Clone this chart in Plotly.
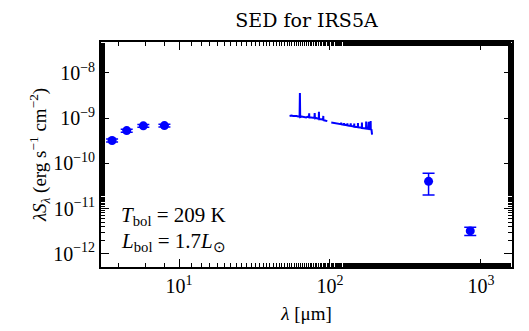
import numpy as np
import plotly.graph_objects as go

# photometry (IRAC)
phot_wl = [3.6, 4.5, 5.8, 8.0]
phot_flux = [3.2e-10, 5.3e-10, 6.75e-10, 6.85e-10]
phot_err = [2.5e-11, 4.0e-11, 5.0e-11, 5.0e-11]

# submm
submm_wl = [450, 850]
submm_flux = [4.0e-11, 3.2e-12]
submm_err = [2.0e-11, 0.65e-12]

# spectrum, two segments (gap near 100 um)
spec1_wl = [54, 55.5, 57, 58.5, 60, 61.5, 62.9, 63.2, 63.5, 65, 66.5, 68, 69.5, 71,
            72.6, 72.8, 73.0, 75, 76.5, 78.9, 79.2, 79.5, 81, 82.5, 84.3, 84.5, 84.7,
            87, 89, 90.1, 90.3, 90.5, 92.5, 94, 96]
spec1_flux = [1.12e-9, 1.14e-9, 1.11e-9, 1.13e-9, 1.11e-9, 1.09e-9, 1.10e-9, 3.6e-9, 1.06e-9,
              1.09e-9, 1.07e-9, 1.06e-9, 1.04e-9, 1.07e-9, 1.05e-9, 1.28e-9, 1.03e-9,
              1.03e-9, 1.02e-9, 1.01e-9, 1.30e-9, 0.99e-9, 1.0e-9, 9.7e-10, 9.6e-10,
              1.38e-9, 9.4e-10, 9.4e-10, 9.2e-10, 9.3e-10, 1.12e-9, 9.0e-10, 8.9e-10,
              8.8e-10, 8.6e-10]
spec2_wl = [102, 104, 106, 108, 110, 112, 114, 116, 118, 118.6, 119.2, 121, 124, 124.2,
            124.6, 127, 130.2, 130.4, 130.8, 134, 137, 137.2, 137.6, 141, 144.6, 144.8,
            145.2, 149, 153, 153.2, 153.6, 158, 162.6, 162.8, 163.2, 168, 173.4, 173.6,
            174, 179, 180.5, 181, 185.8, 186, 186.4, 188.5, 190]
spec2_flux = [8.0e-10, 7.9e-10, 7.8e-10, 7.75e-10, 7.65e-10, 7.6e-10, 7.5e-10, 7.45e-10,
              7.35e-10, 7.9e-10, 7.3e-10, 7.25e-10, 7.15e-10, 7.8e-10, 7.1e-10, 7.05e-10,
              6.95e-10, 7.7e-10, 6.9e-10, 6.8e-10, 6.75e-10, 7.7e-10, 6.7e-10, 6.6e-10,
              6.5e-10, 7.6e-10, 6.45e-10, 6.4e-10, 6.3e-10, 7.8e-10, 6.25e-10, 6.2e-10,
              6.1e-10, 8.0e-10, 6.05e-10, 6.0e-10, 5.9e-10, 8.4e-10, 5.85e-10, 5.8e-10,
              8.3e-10, 5.75e-10, 5.7e-10, 8.6e-10, 5.6e-10, 5.5e-10, 4.3e-10]

x_ticks = [10, 100, 1000]
x_ticktext = ["10<sup>1</sup>", "10<sup>2</sup>", "10<sup>3</sup>"]
y_ticks = [1e-12, 1e-11, 1e-10, 1e-9, 1e-8]
y_ticktext = ["10<sup>−12</sup>", "10<sup>−11</sup>", "10<sup>−10</sup>",
              "10<sup>−9</sup>", "10<sup>−8</sup>"]

blue = "#0000ff"
font = "Liberation Serif"

fig = go.Figure()
fig.add_trace(go.Scatter(x=spec1_wl + [None] + spec2_wl,
                         y=spec1_flux + [None] + spec2_flux,
                         mode="lines", line=dict(color=blue, width=2),
                         connectgaps=False))
fig.add_trace(go.Scatter(x=phot_wl + submm_wl, y=phot_flux + submm_flux,
                         mode="markers", marker=dict(color=blue, size=9),
                         error_y=dict(type="data", array=phot_err + submm_err,
                                      color=blue, thickness=1.5, width=6)))

axis_common = dict(type="log", showline=True, linecolor="black", linewidth=1.8,
                   mirror="allticks", ticks="inside", ticklen=8, tickwidth=1.2,
                   tickcolor="black", showgrid=False, zeroline=False, automargin=False,
                   minor=dict(ticks="inside", ticklen=4, tickwidth=1, tickcolor="black",
                              showgrid=False),
                   tickfont=dict(family=font, size=20, color="black"))

fig.update_xaxes(**axis_common, range=[np.log10(3.04), np.log10(1607)],
                 tickvals=x_ticks, ticktext=x_ticktext,
                 title=dict(text="<i>λ</i> [μm]", font=dict(family=font, size=19, color="black"),
                            standoff=11))
fig.update_yaxes(**axis_common, range=[-12.293, -7.316],
                 tickvals=y_ticks, ticktext=y_ticktext,
                 title=dict(text="<i>λS</i><sub><i>λ</i></sub> (erg s<sup>−1</sup> cm<sup>−2</sup>)",
                            font=dict(family=font, size=19, color="black"), standoff=0))

fig.add_annotation(x=0.045, y=0.228, xref="paper", yref="paper", xanchor="left",
                   yanchor="middle", showarrow=False, text="<i>T</i><sub>bol</sub> = 209 K",
                   font=dict(family=font, size=21, color="black"))
fig.add_annotation(x=0.045, y=0.11, xref="paper", yref="paper", xanchor="left",
                   yanchor="middle", showarrow=False,
                   text="<i>L</i><sub>bol</sub> = 1.7<i>L</i><sub>⊙</sub>",
                   font=dict(family=font, size=21, color="black"))

fig.update_layout(width=529, height=331, showlegend=False,
                  margin=dict(l=101, r=17, t=42, b=64, autoexpand=False),
                  paper_bgcolor="white", plot_bgcolor="white",
                  title=dict(text="SED for IRS5A", x=0.5, xanchor="center",
                             xref="paper", y=0.94, yanchor="middle",
                             font=dict(family="DejaVu Serif", size=19, color="black")))

# the page has a default 8px body margin; drop it so the figure sits at 0,0
fig.write_html("out.html", config={"displayModeBar": False},
               post_script="document.body.style.margin='0';")
